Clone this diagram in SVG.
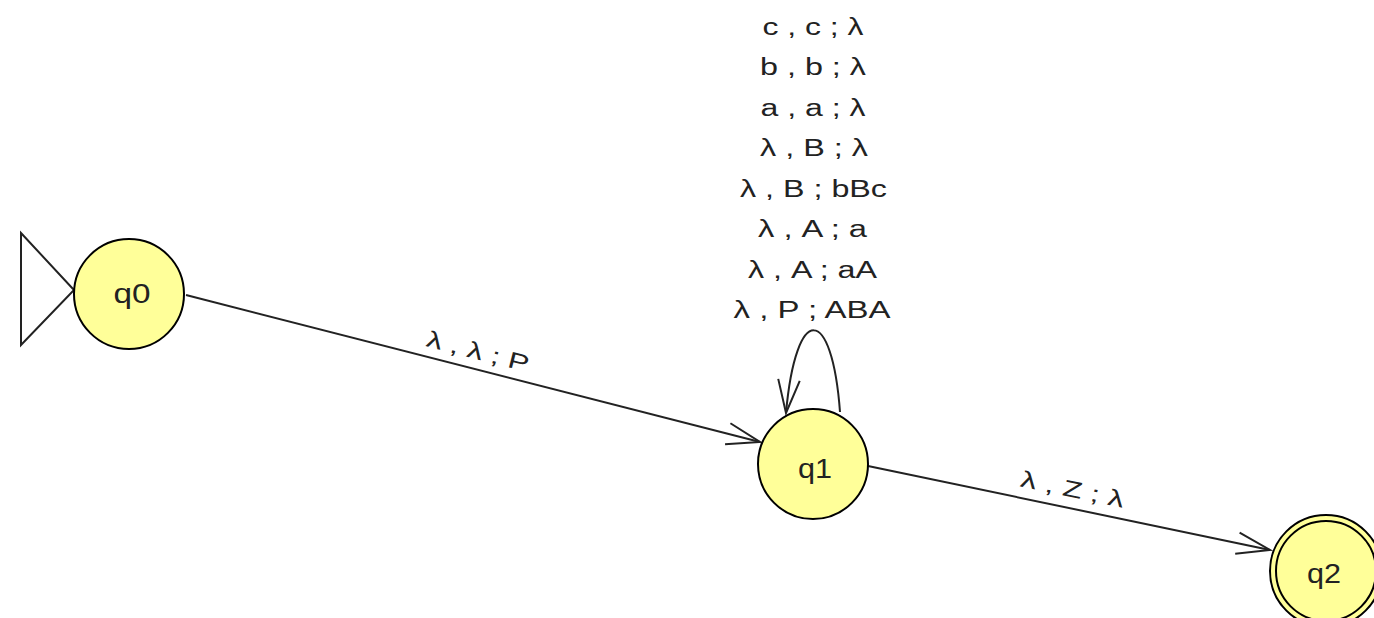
<svg xmlns="http://www.w3.org/2000/svg" width="1374" height="618" viewBox="0 0 1374 618">
<style>
.st{fill:#ffff99;stroke:#000;stroke-width:2}
.ln{fill:none;stroke:#222;stroke-width:2}
.lbl{font-family:"Liberation Sans",Arial,sans-serif;font-size:23px;fill:#222;text-anchor:middle}
.nm{font-family:"Liberation Sans",Arial,sans-serif;font-size:27px;fill:#222;text-anchor:middle}
</style>
<defs>
<marker id="arr" markerUnits="userSpaceOnUse" viewBox="-38 -14 40 28" refX="0" refY="0" markerWidth="40" markerHeight="28" orient="auto" overflow="visible">
<path d="M-33.3,-10.8 L0,0 L-33.3,10.8" fill="none" stroke="#222" stroke-width="2"/>
</marker>
</defs>
<rect width="1374" height="618" fill="#fff"/>
<g id="connectors">
<path class="ln" d="M186,295 L760,442" marker-end="url(#arr)"/>
<path class="ln" d="M868,466 L1270,550" marker-end="url(#arr)"/>
<path class="ln" d="M840,412 C832,304 796,302 786,413" marker-end="url(#arr)"/>
<text class="lbl" x="476" y="359" textLength="105" lengthAdjust="spacingAndGlyphs" transform="rotate(14.4 476 359)">λ , λ ; P</text>
<text class="lbl" x="1071" y="497" textLength="105" lengthAdjust="spacingAndGlyphs" transform="rotate(11.7 1071 497)">λ , Z ; λ</text>
<g id="loop-labels">
<text class="lbl" x="813" y="35" textLength="101" lengthAdjust="spacingAndGlyphs">c , c ; λ</text>
<text class="lbl" x="813" y="75.4" textLength="106" lengthAdjust="spacingAndGlyphs">b , b ; λ</text>
<text class="lbl" x="813" y="115.9" textLength="105" lengthAdjust="spacingAndGlyphs">a , a ; λ</text>
<text class="lbl" x="814" y="156.3" textLength="108" lengthAdjust="spacingAndGlyphs">λ , B ; λ</text>
<text class="lbl" x="813.5" y="196.7" textLength="147" lengthAdjust="spacingAndGlyphs">λ , B ; bBc</text>
<text class="lbl" x="812.5" y="237.1" textLength="109" lengthAdjust="spacingAndGlyphs">λ , A ; a</text>
<text class="lbl" x="812.5" y="277.6" textLength="129" lengthAdjust="spacingAndGlyphs">λ , A ; aA</text>
<text class="lbl" x="812" y="318" textLength="157" lengthAdjust="spacingAndGlyphs">λ , P ; ABA</text>
</g>
</g>
<g id="q0">
<polygon points="21,233 74,290 21,345" fill="none" stroke="#222" stroke-width="2"/>
<circle class="st" cx="129" cy="294" r="55"/>
<text class="nm" x="132" y="303" textLength="37" lengthAdjust="spacingAndGlyphs">q0</text>
</g>
<g id="q1">
<circle class="st" cx="813" cy="464" r="55"/>
<text class="nm" x="815" y="478" textLength="34" lengthAdjust="spacingAndGlyphs">q1</text>
</g>
<g id="q2">
<circle class="st" cx="1326" cy="571" r="56"/>
<circle cx="1326" cy="571" r="50" fill="none" stroke="#000" stroke-width="2"/>
<text class="nm" x="1324" y="583" textLength="34" lengthAdjust="spacingAndGlyphs">q2</text>
</g>
</svg>
